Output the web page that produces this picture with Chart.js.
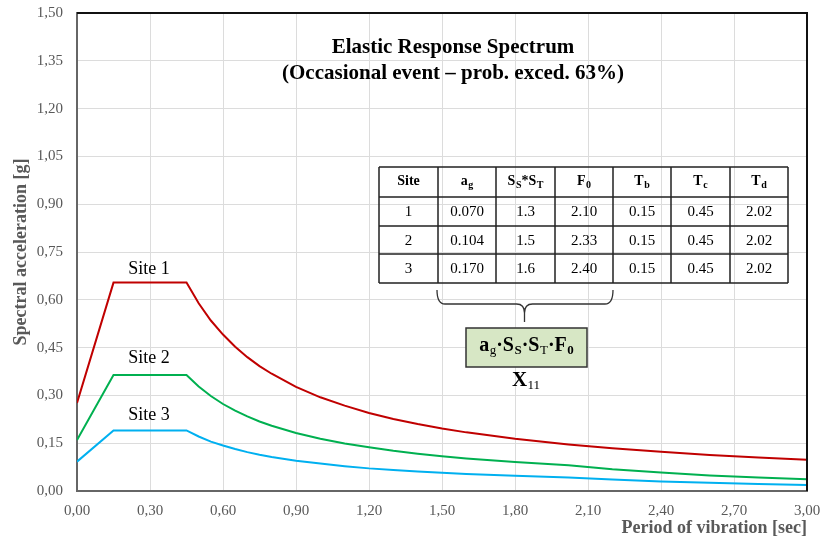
<!DOCTYPE html>
<html>
<head>
<meta charset="utf-8">
<script src="https://cdn.jsdelivr.net/npm/chart.js@4/dist/chart.umd.min.js"></script>
<style>
  html, body { margin: 0; padding: 0; background: #fff; }
  #wrap { width: 822px; height: 542px; }
</style>
</head>
<body>
<div id="wrap"><canvas id="chart" width="822" height="542"></canvas></div>
<script>
// Period of vibration [sec]
const periods = [0, 0.15, 0.45, 0.50, 0.55, 0.60, 0.65, 0.70, 0.75, 0.80, 0.90, 1.00, 1.10, 1.20, 1.30, 1.40, 1.50, 1.60, 1.80, 2.02, 2.20, 2.40, 2.60, 2.80, 3.00];
// Spectral acceleration [g]
const site1 = [0.276, 0.654, 0.654, 0.589, 0.535, 0.491, 0.453, 0.420, 0.392, 0.368, 0.327, 0.294, 0.268, 0.245, 0.226, 0.210, 0.196, 0.184, 0.164, 0.146, 0.134, 0.123, 0.113, 0.105, 0.098];
const site2 = [0.160, 0.364, 0.364, 0.328, 0.298, 0.273, 0.252, 0.234, 0.218, 0.205, 0.182, 0.164, 0.149, 0.137, 0.126, 0.117, 0.109, 0.102, 0.091, 0.081, 0.068, 0.058, 0.049, 0.042, 0.037];
const site3 = [0.092, 0.190, 0.190, 0.171, 0.155, 0.143, 0.132, 0.122, 0.114, 0.107, 0.095, 0.086, 0.078, 0.071, 0.066, 0.061, 0.057, 0.053, 0.048, 0.042, 0.036, 0.030, 0.026, 0.022, 0.019];

const siteNames = ['Site 1', 'Site 2', 'Site 3'];
const siteColors = ['#c00000', '#00b050', '#00b0f0'];

// table in the plot: header cells as [main, subscript] pairs
const tableHeader = [[['Site', '']], [['a', 'g']], [['S', 'S'], ['*', ''], ['S', 'T']], [['F', '0']], [['T', 'b']], [['T', 'c']], [['T', 'd']]];
const tableRows = [
  ['1', '0.070', '1.3', '2.10', '0.15', '0.45', '2.02'],
  ['2', '0.104', '1.5', '2.33', '0.15', '0.45', '2.02'],
  ['3', '0.170', '1.6', '2.40', '0.15', '0.45', '2.02'],
];

const SERIF = '"Liberation Serif", "Times New Roman", serif';
const fmt = v => Number(v).toFixed(2).replace('.', ',');

function richWidth(ctx, segs, size, bold, subSize) {
  let w = 0;
  for (const s of segs) {
    ctx.font = `${s.b ?? bold ? 'bold ' : ''}${size}px ${SERIF}`;
    w += ctx.measureText(s.t).width;
    if (s.s) {
      ctx.font = `${s.sb ?? bold ? 'bold ' : ''}${subSize}px ${SERIF}`;
      w += ctx.measureText(s.s).width + 0.5;
    }
  }
  return w;
}

function drawRich(ctx, segs, cx, cy, size, bold, subSize, subDrop) {
  let x = cx - richWidth(ctx, segs, size, bold, subSize) / 2;
  ctx.textAlign = 'left';
  ctx.textBaseline = 'middle';
  for (const s of segs) {
    ctx.font = `${s.b ?? bold ? 'bold ' : ''}${size}px ${SERIF}`;
    ctx.fillText(s.t, x, cy);
    x += ctx.measureText(s.t).width;
    if (s.s) {
      ctx.font = `${s.sb ?? bold ? 'bold ' : ''}${subSize}px ${SERIF}`;
      ctx.fillText(s.s, x + 0.5, cy + subDrop);
      x += ctx.measureText(s.s).width + 0.5;
    }
  }
}

const annotations = {
  id: 'annotations',
  afterDraw(chart) {
    const { ctx, chartArea: a } = chart;
    ctx.save();
    // top and right frame
    ctx.strokeStyle = '#111';
    ctx.lineWidth = 2;
    ctx.beginPath();
    ctx.moveTo(a.left, a.top);
    ctx.lineTo(a.right, a.top);
    ctx.lineTo(a.right, a.bottom);
    ctx.stroke();

    ctx.fillStyle = '#000';
    // title
    ctx.textAlign = 'center';
    ctx.textBaseline = 'middle';
    ctx.font = `bold 21px ${SERIF}`;
    ctx.fillText('Elastic Response Spectrum', 453, 48);
    ctx.fillText('(Occasional event \u2013 prob. exced. 63%)', 453, 74);

    // site labels
    ctx.font = `18px ${SERIF}`;
    const labelY = [269, 358, 415];
    siteNames.forEach((n, i) => ctx.fillText(n, 149, labelY[i]));

    // table
    const colX = [379, 438, 496, 555, 613, 671, 730, 788];
    const rowY = [167, 197, 226, 254, 283];
    ctx.strokeStyle = '#222';
    ctx.lineWidth = 1.5;
    ctx.beginPath();
    colX.forEach(x => { ctx.moveTo(x, rowY[0]); ctx.lineTo(x, rowY[rowY.length - 1]); });
    rowY.forEach(y => { ctx.moveTo(colX[0], y); ctx.lineTo(colX[colX.length - 1], y); });
    ctx.stroke();
    tableHeader.forEach((cell, c) => {
      const segs = cell.map(([t, s]) => ({ t, s }));
      drawRich(ctx, segs, (colX[c] + colX[c + 1]) / 2, (rowY[0] + rowY[1]) / 2 - 1, 14, true, 10, 4);
    });
    ctx.textAlign = 'center';
    ctx.textBaseline = 'middle';
    ctx.font = `15px ${SERIF}`;
    tableRows.forEach((row, r) => {
      row.forEach((v, c) => {
        ctx.fillText(v, (colX[c] + colX[c + 1]) / 2, (rowY[r + 1] + rowY[r + 2]) / 2 + 1);
      });
    });

    // brace under a_g .. F_0
    ctx.strokeStyle = '#333';
    ctx.lineWidth = 1.3;
    const bl = 437, br = 613, bm = 524.5, by = 304;
    ctx.beginPath();
    ctx.moveTo(bl, 290);
    ctx.quadraticCurveTo(bl, by, bl + 8, by);
    ctx.lineTo(bm - 8, by);
    ctx.quadraticCurveTo(bm, by, bm, by + 9);
    ctx.lineTo(bm, 322);
    ctx.moveTo(bm, by + 9);
    ctx.quadraticCurveTo(bm, by, bm + 8, by);
    ctx.lineTo(br - 8, by);
    ctx.quadraticCurveTo(br, by, br, 290);
    ctx.stroke();

    // formula box
    ctx.fillStyle = '#d7e7c5';
    ctx.fillRect(466, 328, 121, 39);
    ctx.strokeStyle = '#333';
    ctx.lineWidth = 1.5;
    ctx.strokeRect(466, 328, 121, 39);
    ctx.fillStyle = '#000';
    drawRich(ctx, [
      { t: 'a', s: 'g', sb: false },
      { t: '\u00b7S', s: 'S' },
      { t: '\u00b7S', s: 'T', sb: false },
      { t: '\u00b7F', s: '0' },
    ], 526.5, 346, 20, true, 13, 5);
    drawRich(ctx, [{ t: 'X', s: '11', sb: false }], 526, 381, 21, true, 13, 5);
    ctx.restore();
  }
};

const datasets = [site1, site2, site3].map((vals, i) => ({
  label: siteNames[i],
  data: periods.map((p, j) => ({ x: p, y: vals[j] })),
  borderColor: siteColors[i],
  borderWidth: 2,
  pointRadius: 0,
  tension: 0,
  fill: false,
}));

new Chart(document.getElementById('chart'), {
  type: 'line',
  data: { datasets },
  plugins: [annotations],
  options: {
    responsive: false,
    animation: false,
    devicePixelRatio: 1,
    layout: { padding: 0 },
    plugins: { legend: { display: false }, tooltip: { enabled: false } },
    scales: {
      x: {
        type: 'linear',
        min: 0, max: 3,
        afterFit: s => { s.height = 51; s.paddingRight = 15; s.paddingLeft = 0; },
        grid: { color: '#dcdcdc', lineWidth: 1, drawTicks: false },
        border: { color: '#666', width: 2 },
        ticks: { stepSize: 0.3, padding: 11, color: '#595959', font: { family: SERIF, size: 15 }, callback: v => fmt(v), maxRotation: 0 },
        title: { display: true, text: 'Period of vibration [sec]', align: 'end', color: '#595959', font: { family: SERIF, size: 18, weight: 'bold' }, padding: { top: 0, bottom: 3 } },
      },
      y: {
        min: 0, max: 1.5,
        afterFit: s => { s.width = 77; s.paddingTop = 13; s.paddingBottom = 0; },
        grid: { color: '#dcdcdc', lineWidth: 1, drawTicks: false },
        border: { color: '#666', width: 2 },
        ticks: { stepSize: 0.15, padding: 14, color: '#595959', font: { family: SERIF, size: 15 }, callback: v => fmt(v) },
        title: { display: true, text: 'Spectral acceleration [g]', color: '#595959', font: { family: SERIF, size: 18, weight: 'bold' }, padding: { top: 11, bottom: 0 } },
      },
    },
  },
});
</script>
</body>
</html>
